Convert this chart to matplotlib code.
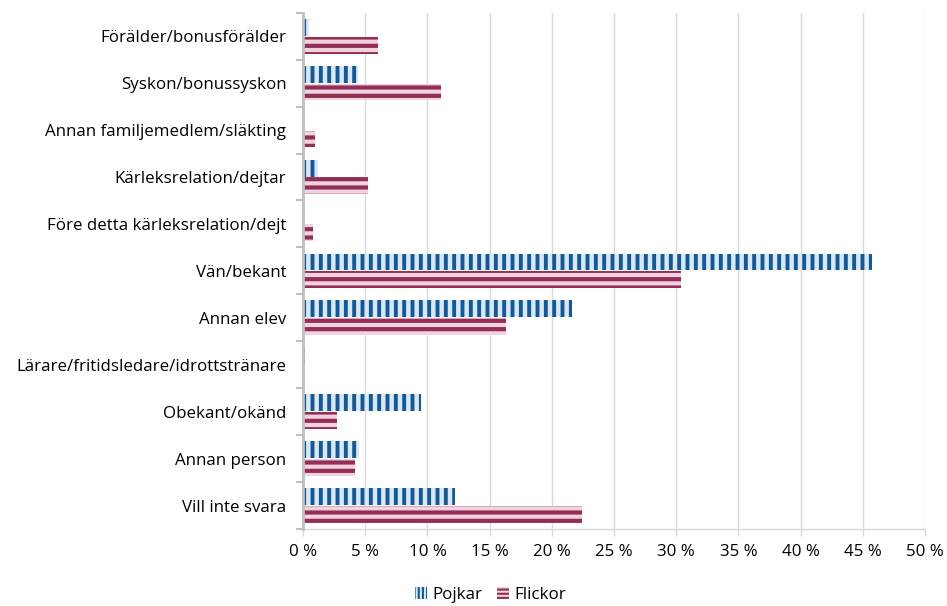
import matplotlib
matplotlib.use("Agg")
import matplotlib.pyplot as plt
import numpy as np
from matplotlib.patches import Patch

categories = [
    "Förälder/bonusförälder",
    "Syskon/bonussyskon",
    "Annan familjemedlem/släkting",
    "Kärleksrelation/dejtar",
    "Före detta kärleksrelation/dejt",
    "Vän/bekant",
    "Annan elev",
    "Lärare/fritidsledare/idrottstränare",
    "Obekant/okänd",
    "Annan person",
    "Vill inte svara",
]
pojkar = [0.5, 4.4, 0.0, 1.2, 0.0, 45.7, 21.6, 0.15, 9.5, 4.5, 12.2]
flickor = [6.0, 11.1, 1.0, 5.2, 0.8, 30.4, 16.3, 0.0, 2.7, 4.2, 22.4]
series_names = ["Pojkar", "Flickor"]
xticks = list(range(0, 55, 5))
xticklabels = [f"{v} %" for v in xticks]

plt.rcParams['font.family'] = ['Open Sans', 'DejaVu Sans']
plt.rcParams['hatch.linewidth'] = 2.6
FS = 12.2

blue_dark = "#0F5A9C"
blue_light = "#DCE7F2"
red_dark = "#922E57"
red_light = "#F1D3DD"

fig = plt.figure(figsize=(9.47, 6.06), dpi=100)
ax = fig.add_axes([0.32, 0.127, 0.6568, 0.852])

n = len(categories)
y = np.arange(n)
h = 0.36
off = 0.19

b1 = ax.barh(y - off, pojkar, height=h, color=blue_light, hatch='||',
             edgecolor=blue_dark, linewidth=0, zorder=3)
b2 = ax.barh(y + off, flickor, height=h, color=red_light, hatch='--',
             edgecolor=red_dark, linewidth=0, zorder=3)
for p in b1:
    if hasattr(p, "set_hatch_linewidth"):
        p.set_hatch_linewidth(2.8)
for p in b2:
    if hasattr(p, "set_hatch_linewidth"):
        p.set_hatch_linewidth(3.0)

ax.set_ylim(n - 0.5, -0.5)
ax.set_xlim(0, 50)
ax.set_xticks(xticks)
ax.set_xticklabels(xticklabels, fontsize=FS)
ax.set_yticks(y)
ax.set_yticklabels(categories, fontsize=FS)
ax.set_yticks(np.arange(-0.5, n, 1), minor=True)
ax.tick_params(axis='y', which='major', length=0, pad=12)
ax.tick_params(axis='y', which='minor', length=5, color="#BFBFBF", width=1.5)
ax.tick_params(axis='x', length=5, color="#D9D9D9", width=1, pad=6)
ax.grid(axis='x', color="#D9D9D9", linewidth=1, zorder=0)
for s in ['top', 'right']:
    ax.spines[s].set_visible(False)
ax.spines['left'].set_color("#BFBFBF")
ax.spines['left'].set_linewidth(2)
ax.spines['left'].set_zorder(4)
ax.spines['bottom'].set_color("#D9D9D9")
ax.spines['bottom'].set_linewidth(1)

h1 = Patch(facecolor=blue_light, edgecolor=blue_dark, hatch='||||', linewidth=0)
h2 = Patch(facecolor=red_light, edgecolor=red_dark, hatch='----', linewidth=0)
leg = fig.legend([h1, h2], series_names, loc='lower center', ncol=2,
                 bbox_to_anchor=(0.518, -0.02), frameon=False, fontsize=FS,
                 handlelength=0.7, handleheight=0.7, handletextpad=0.3,
                 columnspacing=0.9)
for p in leg.get_patches():
    if hasattr(p, "set_hatch_linewidth"):
        p.set_hatch_linewidth(1.5)

fig.savefig("out.png", dpi=100)
